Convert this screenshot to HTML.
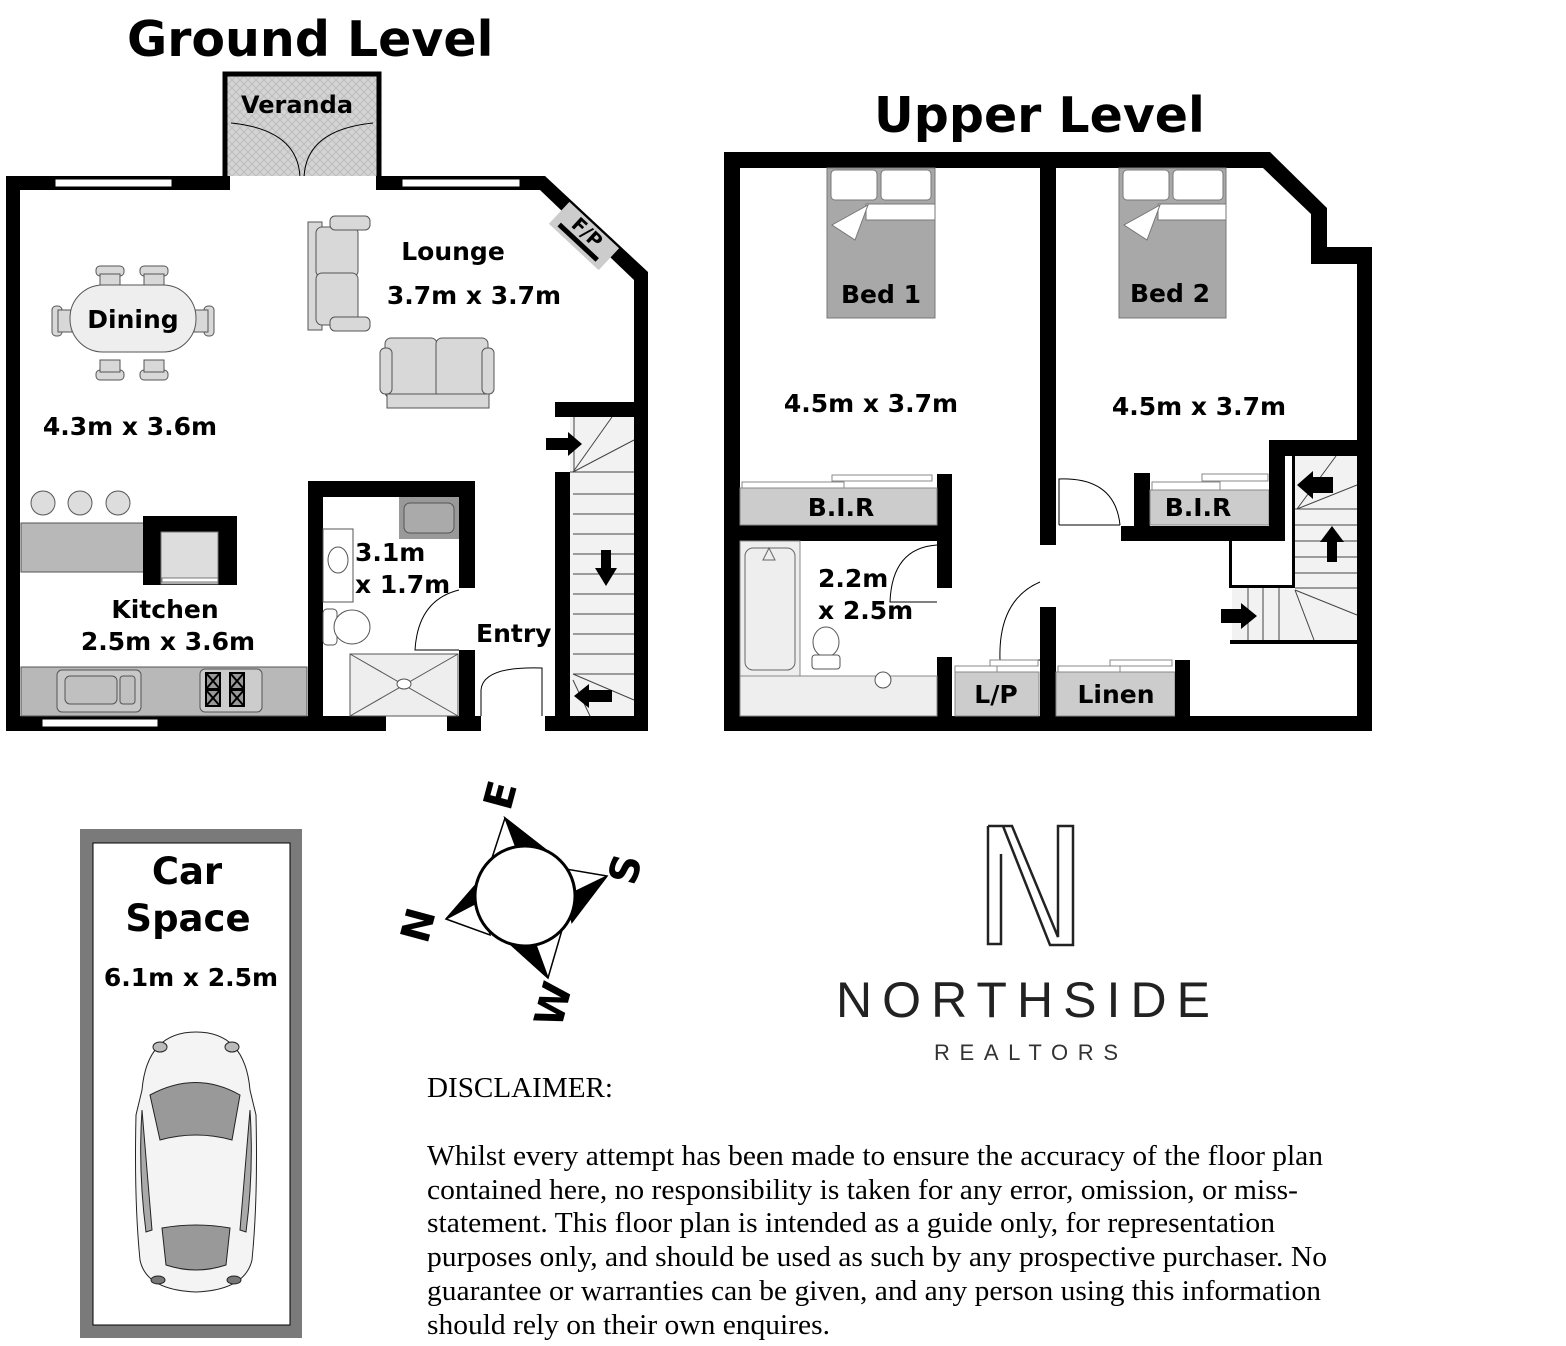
<!DOCTYPE html>
<html><head><meta charset="utf-8"><style>
html,body{margin:0;padding:0;background:#fff}
svg{display:block}
.b{font-family:"DejaVu Sans","Liberation Sans",sans-serif;font-weight:bold;fill:#000}
</style></head><body>
<svg width="1566" height="1346" viewBox="0 0 1566 1346" xmlns="http://www.w3.org/2000/svg">
<defs>
<pattern id="hatch" width="8" height="8" patternUnits="userSpaceOnUse">
<rect width="8" height="8" fill="#d4d4d4"/><path d="M0 8L8 0M0 0L8 8" stroke="#bcbcbc" stroke-width="1"/>
</pattern>
</defs>
<text x="127" y="56" class="b" font-size="49">Ground Level</text>
<text x="874" y="132" class="b" font-size="49">Upper Level</text>

<!-- ========== GROUND LEVEL ========== -->
<rect x="225" y="74" width="154" height="108" fill="url(#hatch)" stroke="#000" stroke-width="5"/>
<text x="297" y="113" class="b" font-size="24" text-anchor="middle">Veranda</text>
<path d="M231 123 Q300 130 300 180 M373 123 Q304 130 304 180" fill="none" stroke="#000" stroke-width="1"/>
<path d="M6 176 H545 L648 272 V731 H6 Z M20 190 V716 H634 V280 L540 190 Z" fill="#000" fill-rule="evenodd"/>
<rect x="55" y="179" width="117" height="8" fill="#fff" stroke="#000" stroke-width="1"/>
<rect x="402" y="179" width="118" height="8" fill="#fff" stroke="#000" stroke-width="1"/>
<rect x="230" y="176" width="146" height="14" fill="#fff"/>
<g transform="translate(584,236) rotate(43)">
<rect x="-34" y="-15" width="68" height="30" fill="#ccc"/>
<rect x="-26" y="6" width="52" height="5" fill="#000"/>
<text x="0" y="2" class="b" font-size="19" text-anchor="middle">F/P</text>
</g>
<rect x="42" y="719" width="116" height="8" fill="#fff" stroke="#000" stroke-width="1"/>
<rect x="386" y="716" width="61" height="15" fill="#fff"/>
<rect x="481" y="716" width="64" height="15" fill="#fff"/>
<path d="M481 716 V690 Q483 666 542 668 V716" fill="none" stroke="#000" stroke-width="1"/>

<g fill="#d8d8d8" stroke="#555" stroke-width="1">
<rect x="308" y="222" width="14" height="108"/>
<rect x="316" y="227" width="42" height="50" rx="6"/>
<rect x="316" y="273" width="42" height="52" rx="6"/>
<rect x="330" y="216" width="40" height="14" rx="5"/>
<rect x="330" y="317" width="40" height="14" rx="5"/>
<rect x="385" y="338" width="52" height="60" rx="6"/>
<rect x="436" y="338" width="52" height="60" rx="6"/>
<rect x="380" y="348" width="12" height="46" rx="5"/>
<rect x="482" y="348" width="12" height="46" rx="5"/>
<rect x="387" y="394" width="102" height="14"/>
</g>
<text x="453" y="260" class="b" font-size="25" text-anchor="middle">Lounge</text>
<text x="474" y="304" class="b" font-size="25" text-anchor="middle">3.7m x 3.7m</text>

<g fill="#d8d8d8" stroke="#555" stroke-width="1">
<rect x="96" y="266" width="28" height="10" rx="4"/><rect x="140" y="266" width="28" height="10" rx="4"/>
<rect x="96" y="370" width="28" height="10" rx="4"/><rect x="140" y="370" width="28" height="10" rx="4"/>
<rect x="52" y="306" width="10" height="30" rx="4"/><rect x="204" y="306" width="10" height="30" rx="4"/>
<rect x="100" y="274" width="20" height="12"/><rect x="144" y="274" width="20" height="12"/>
<rect x="100" y="360" width="20" height="12"/><rect x="144" y="360" width="20" height="12"/>
<rect x="58" y="310" width="14" height="22"/><rect x="194" y="310" width="14" height="22"/>
<rect x="70" y="285" width="126" height="67" rx="33" fill="#eee"/>
</g>
<text x="133" y="328" class="b" font-size="25" text-anchor="middle">Dining</text>
<text x="130" y="435" class="b" font-size="25" text-anchor="middle">4.3m x 3.6m</text>

<g fill="#ddd" stroke="#555" stroke-width="1">
<circle cx="43" cy="503" r="12"/><circle cx="80" cy="503" r="12"/><circle cx="118" cy="503" r="12"/>
</g>
<rect x="21" y="523" width="124" height="49" fill="#b8b8b8" stroke="#555" stroke-width="1"/>
<rect x="143" y="516" width="94" height="69" fill="#000"/>
<rect x="161" y="532" width="57" height="52" fill="#ddd" stroke="#777"/>
<rect x="162" y="578" width="56" height="4" fill="#fff" stroke="#777"/>
<text x="165" y="618" class="b" font-size="25" text-anchor="middle">Kitchen</text>
<text x="168" y="650" class="b" font-size="25" text-anchor="middle">2.5m x 3.6m</text>
<rect x="21" y="667" width="286" height="49" fill="#b8b8b8" stroke="#555" stroke-width="1"/>
<rect x="57" y="670" width="84" height="42" rx="5" fill="#c8c8c8" stroke="#555"/>
<rect x="65" y="676" width="52" height="28" rx="5" fill="#c0c0c0" stroke="#555"/>
<rect x="120" y="676" width="15" height="28" rx="3" fill="#c0c0c0" stroke="#555"/>
<rect x="200" y="669" width="62" height="43" rx="5" fill="#ccc" stroke="#555"/>
<g stroke="#000" stroke-width="2" fill="#999"><rect x="206" y="673" width="14" height="16"/><rect x="206" y="690" width="14" height="16"/><rect x="230" y="673" width="14" height="16"/><rect x="230" y="690" width="14" height="16"/>
<path d="M206 673 L220 689 M220 673 L206 689 M206 690 L220 706 M220 690 L206 706 M230 673 L244 689 M244 673 L230 689 M230 690 L244 706 M244 690 L230 706"/></g>

<path d="M308 481 H475 V588 H459 V497 H323 V716 H308 Z" fill="#000"/>
<rect x="459" y="650" width="16" height="66" fill="#000"/>
<rect x="399" y="497" width="60" height="42" fill="#999"/>
<rect x="404" y="503" width="50" height="30" rx="6" fill="#aaa" stroke="#555"/>
<rect x="323" y="529" width="30" height="73" fill="#fff" stroke="#555"/>
<ellipse cx="338" cy="560" rx="10" ry="13" fill="#fff" stroke="#555"/>
<rect x="323" y="609" width="14" height="36" rx="4" fill="#fff" stroke="#555"/>
<ellipse cx="352" cy="627" rx="18" ry="17" fill="#fff" stroke="#555"/>
<rect x="350" y="654" width="108" height="62" fill="#eee" stroke="#555"/>
<path d="M350 654 L458 716 M458 654 L350 716" stroke="#555"/>
<ellipse cx="404" cy="684" rx="7" ry="5" fill="#fff" stroke="#555"/>
<path d="M459 650 H415 Q418 600 459 590" fill="none" stroke="#000"/>
<text x="355" y="561" class="b" font-size="25">3.1m</text>
<text x="355" y="593" class="b" font-size="25">x 1.7m</text>
<text x="476" y="642" class="b" font-size="25">Entry</text>

<rect x="555" y="402" width="93" height="15" fill="#000"/>
<rect x="555" y="472" width="15" height="244" fill="#000"/>
<rect x="570" y="417" width="64" height="299" fill="#f2f2f2"/>
<g stroke="#444" stroke-width="1" fill="none">
<line x1="570" y1="472" x2="634" y2="472"/><line x1="573" y1="494" x2="634" y2="494"/><line x1="573" y1="514" x2="634" y2="514"/><line x1="573" y1="534" x2="634" y2="534"/><line x1="573" y1="554" x2="634" y2="554"/><line x1="573" y1="574" x2="634" y2="574"/><line x1="573" y1="594" x2="634" y2="594"/><line x1="573" y1="614" x2="634" y2="614"/><line x1="573" y1="634" x2="634" y2="634"/><line x1="573" y1="654" x2="634" y2="654"/><line x1="573" y1="674" x2="634" y2="674"/>
<line x1="574" y1="417" x2="574" y2="472"/><line x1="573" y1="472" x2="634" y2="440"/><line x1="573" y1="472" x2="612" y2="417"/>
<line x1="573" y1="674" x2="634" y2="700"/><line x1="573" y1="680" x2="590" y2="716"/>
</g>
<path d="M546 438 H568 V432 L582 444 L568 456 V450 H546 Z" fill="#000"/>
<path d="M601 550 H611 V568 H617 L606 586 L595 568 H601 Z" fill="#000"/>
<path d="M612 690 H589 V684 L574 696 L589 708 V702 H612 Z" fill="#000"/>

<!-- ========== UPPER LEVEL ========== -->
<path d="M724 152 H1270 L1327 208 V247 H1372 V731 H724 Z M740 168 V716 H1357 V264 H1311 V214 L1263 168 Z" fill="#000" fill-rule="evenodd"/>
<rect x="1040" y="160" width="16" height="385" fill="#000"/>
<rect x="1040" y="607" width="16" height="113" fill="#000"/>
<path d="M1040 660 H1000 Q998 600 1040 582" fill="none" stroke="#000"/>
<g>
<rect x="827" y="168" width="108" height="150" fill="#a8a8a8" stroke="#777"/>
<rect x="831" y="170" width="46" height="30" rx="4" fill="#fff" stroke="#777"/>
<rect x="881" y="170" width="50" height="30" rx="4" fill="#fff" stroke="#777"/>
<rect x="866" y="204" width="69" height="16" fill="#fff" stroke="#777"/>
<path d="M868 205 L832 225 L855 240 Z" fill="#fff" stroke="#777"/>
<rect x="1119" y="168" width="107" height="150" fill="#a8a8a8" stroke="#777"/>
<rect x="1123" y="170" width="46" height="30" rx="4" fill="#fff" stroke="#777"/>
<rect x="1173" y="170" width="50" height="30" rx="4" fill="#fff" stroke="#777"/>
<rect x="1158" y="204" width="68" height="16" fill="#fff" stroke="#777"/>
<path d="M1160 205 L1124 225 L1147 240 Z" fill="#fff" stroke="#777"/>
</g>
<text x="881" y="303" class="b" font-size="25" text-anchor="middle">Bed 1</text>
<text x="1170" y="302" class="b" font-size="25" text-anchor="middle">Bed 2</text>
<text x="871" y="412" class="b" font-size="25" text-anchor="middle">4.5m x 3.7m</text>
<text x="1199" y="415" class="b" font-size="25" text-anchor="middle">4.5m x 3.7m</text>
<rect x="937" y="474" width="15" height="114" fill="#000"/>
<rect x="937" y="657" width="15" height="63" fill="#000"/>
<rect x="724" y="525" width="228" height="16" fill="#000"/>
<rect x="740" y="488" width="197" height="37" fill="#ccc" stroke="#888"/>
<rect x="742" y="482" width="102" height="6" fill="#fff" stroke="#888"/>
<rect x="832" y="475" width="100" height="6" fill="#fff" stroke="#888"/>
<text x="841" y="516" class="b" font-size="25" text-anchor="middle">B.I.R</text>
<rect x="740" y="541" width="60" height="135" fill="#eee" stroke="#888"/>
<rect x="745" y="548" width="50" height="122" rx="8" fill="#eee" stroke="#666"/>
<path d="M763 560 L775 560 L769 548 Z" fill="#eee" stroke="#666"/>
<rect x="740" y="676" width="197" height="40" fill="#eee" stroke="#888"/>
<circle cx="883" cy="680" r="8" fill="#fff" stroke="#555"/>
<ellipse cx="826" cy="642" rx="13" ry="15" fill="#fff" stroke="#555"/>
<rect x="812" y="655" width="28" height="14" rx="3" fill="#fff" stroke="#555"/>
<path d="M937 602 H890 Q892 548 937 545" fill="none" stroke="#000"/>
<text x="818" y="587" class="b" font-size="25">2.2m</text>
<text x="818" y="619" class="b" font-size="25">x 2.5m</text>
<rect x="955" y="672" width="84" height="44" fill="#ccc" stroke="#888"/>
<rect x="955" y="666" width="42" height="6" fill="#fff" stroke="#888"/>
<rect x="990" y="660" width="48" height="6" fill="#fff" stroke="#888"/>
<text x="996" y="703" class="b" font-size="25" text-anchor="middle">L/P</text>
<rect x="1056" y="672" width="119" height="44" fill="#ccc" stroke="#888"/>
<rect x="1058" y="666" width="62" height="6" fill="#fff" stroke="#888"/>
<rect x="1110" y="660" width="62" height="6" fill="#fff" stroke="#888"/>
<rect x="1175" y="660" width="15" height="60" fill="#000"/>
<text x="1116" y="703" class="b" font-size="25" text-anchor="middle">Linen</text>
<!-- bed2 BIR -->
<rect x="1134" y="473" width="16" height="68" fill="#000"/>
<rect x="1121" y="526" width="164" height="15" fill="#000"/>
<rect x="1150" y="490" width="119" height="35" fill="#ccc" stroke="#888"/>
<rect x="1152" y="482" width="68" height="8" fill="#fff" stroke="#888"/>
<rect x="1202" y="474" width="66" height="7" fill="#fff" stroke="#888"/>
<text x="1198" y="516" class="b" font-size="25" text-anchor="middle">B.I.R</text>
<path d="M1059 525 V479 Q1115 477 1120 525 M1059 525 H1120" fill="none" stroke="#000"/>
<!-- upper stairs -->
<rect x="1269" y="440" width="103" height="16" fill="#000"/>
<rect x="1269" y="440" width="16" height="101" fill="#000"/>
<rect x="1292" y="456" width="3" height="131" fill="#000"/>
<rect x="1229" y="541" width="3" height="46" fill="#000"/>
<rect x="1229" y="585" width="66" height="3" fill="#000"/>
<rect x="1295" y="456" width="62" height="184" fill="#f2f2f2"/>
<rect x="1232" y="588" width="63" height="52" fill="#f2f2f2"/>
<rect x="1230" y="640" width="127" height="4" fill="#000"/>
<g stroke="#444" stroke-width="1" fill="none">
<line x1="1295" y1="509" x2="1357" y2="509"/><line x1="1295" y1="525" x2="1357" y2="525"/><line x1="1295" y1="541" x2="1357" y2="541"/><line x1="1295" y1="557" x2="1357" y2="557"/><line x1="1295" y1="573" x2="1357" y2="573"/><line x1="1295" y1="588" x2="1357" y2="588"/>
<line x1="1297" y1="509" x2="1357" y2="485"/><line x1="1297" y1="509" x2="1336" y2="456"/>
<line x1="1295" y1="590" x2="1357" y2="615"/><line x1="1295" y1="590" x2="1314" y2="640"/>
<line x1="1248" y1="588" x2="1248" y2="640"/><line x1="1263" y1="588" x2="1263" y2="640"/><line x1="1279" y1="588" x2="1279" y2="640"/>
</g>
<path d="M1333 477 H1313 V471 L1297 485 L1313 499 V493 H1333 Z" fill="#000"/>
<path d="M1327 562 H1337 V542 H1344 L1332 526 L1320 542 H1327 Z" fill="#000"/>
<path d="M1221 609 H1241 V603 L1257 616 L1241 629 V623 H1221 Z" fill="#000"/>

<!-- ========== CAR SPACE ========== -->
<rect x="80" y="829" width="222" height="509" fill="#7a7a7a"/>
<rect x="93" y="843" width="197" height="482" fill="#fff" stroke="#000" stroke-width="1"/>
<text x="187" y="884" class="b" font-size="37" text-anchor="middle">Car</text>
<text x="188" y="931" class="b" font-size="37" text-anchor="middle">Space</text>
<text x="191" y="986" class="b" font-size="25" text-anchor="middle">6.1m x 2.5m</text>
<g stroke="#222" stroke-width="1">
<path d="M196 1032 Q245 1032 250 1090 L256 1115 Q258 1200 252 1260 Q245 1290 196 1292 Q146 1290 140 1260 Q134 1200 136 1115 L142 1090 Q147 1032 196 1032 Z" fill="#f4f4f4"/>
<path d="M150 1095 Q196 1070 240 1095 L232 1140 Q196 1130 160 1140 Z" fill="#999"/>
<path d="M162 1228 Q196 1222 230 1228 L226 1265 Q196 1275 166 1265 Z" fill="#999"/>
<path d="M142 1110 L152 1230 L146 1232 Q138 1170 142 1110Z M250 1110 L240 1230 L246 1232 Q254 1170 250 1110Z" fill="#aaa"/>
<ellipse cx="160" cy="1047" rx="7" ry="5" fill="#bbb"/><ellipse cx="232" cy="1047" rx="7" ry="5" fill="#bbb"/>
<ellipse cx="158" cy="1280" rx="7" ry="4" fill="#777"/><ellipse cx="234" cy="1280" rx="7" ry="4" fill="#777"/>
</g>

<!-- ========== COMPASS ========== -->
<g stroke="#000" stroke-width="1.5">
<polygon points="505,818 490,864 546,850" fill="#fff"/>
<polygon points="505,818 520,858 546,850" fill="#000"/>
<polygon points="607,876 560,868 572,922" fill="#fff"/>
<polygon points="607,876 566,896 572,922" fill="#000"/>
<polygon points="548,978 562,930 508,942" fill="#fff"/>
<polygon points="548,978 533,937 508,942" fill="#000"/>
<polygon points="446,919 490,935 480,880" fill="#fff"/>
<polygon points="446,919 486,898 480,880" fill="#000"/>
<circle cx="525" cy="896" r="50" fill="#fff" stroke-width="3"/>
</g>
<g class="b" font-size="40">
<text transform="translate(503,796) rotate(-75)" text-anchor="middle" dominant-baseline="middle">E</text>
<text transform="translate(628,870) rotate(-75)" text-anchor="middle" dominant-baseline="middle">S</text>
<text transform="translate(556,1005) rotate(-75)" text-anchor="middle" dominant-baseline="middle">W</text>
<text transform="translate(421,926) rotate(-75)" text-anchor="middle" dominant-baseline="middle">N</text>
</g>

<!-- ========== LOGO ========== -->
<g fill="none" stroke="#222" stroke-width="2.5">
<path d="M988 826 H1003 L1050 945 H1073 V826 H1058 V937 L1012 826 Z M988 826 V944 H1001 V854"/>
</g>
<text x="836" y="1017" font-family="Liberation Sans, sans-serif" font-size="50" fill="#222" textLength="374" lengthAdjust="spacing">NORTHSIDE</text>
<text x="934" y="1060" font-family="Liberation Sans, sans-serif" font-size="22" fill="#333" textLength="184" lengthAdjust="spacing">REALTORS</text>

<!-- ========== DISCLAIMER ========== -->
<g font-family="Liberation Serif, serif" font-size="28" fill="#000">
<text x="427" y="1097" textLength="186" lengthAdjust="spacingAndGlyphs">DISCLAIMER:</text>
<text x="427" y="1165" textLength="896" lengthAdjust="spacingAndGlyphs">Whilst every attempt has been made to ensure the accuracy of the floor plan</text>
<text x="427" y="1199" textLength="871" lengthAdjust="spacingAndGlyphs">contained here, no responsibility is taken for any error, omission, or miss-</text>
<text x="427" y="1232" textLength="848" lengthAdjust="spacingAndGlyphs">statement. This floor plan is intended as a guide only, for representation</text>
<text x="427" y="1266" textLength="900" lengthAdjust="spacingAndGlyphs">purposes only, and should be used as such by any prospective purchaser. No</text>
<text x="427" y="1300" textLength="894" lengthAdjust="spacingAndGlyphs">guarantee or warranties can be given, and any person using this information</text>
<text x="427" y="1334" textLength="403" lengthAdjust="spacingAndGlyphs">should rely on their own enquires.</text>
</g>
</svg>
</body></html>
